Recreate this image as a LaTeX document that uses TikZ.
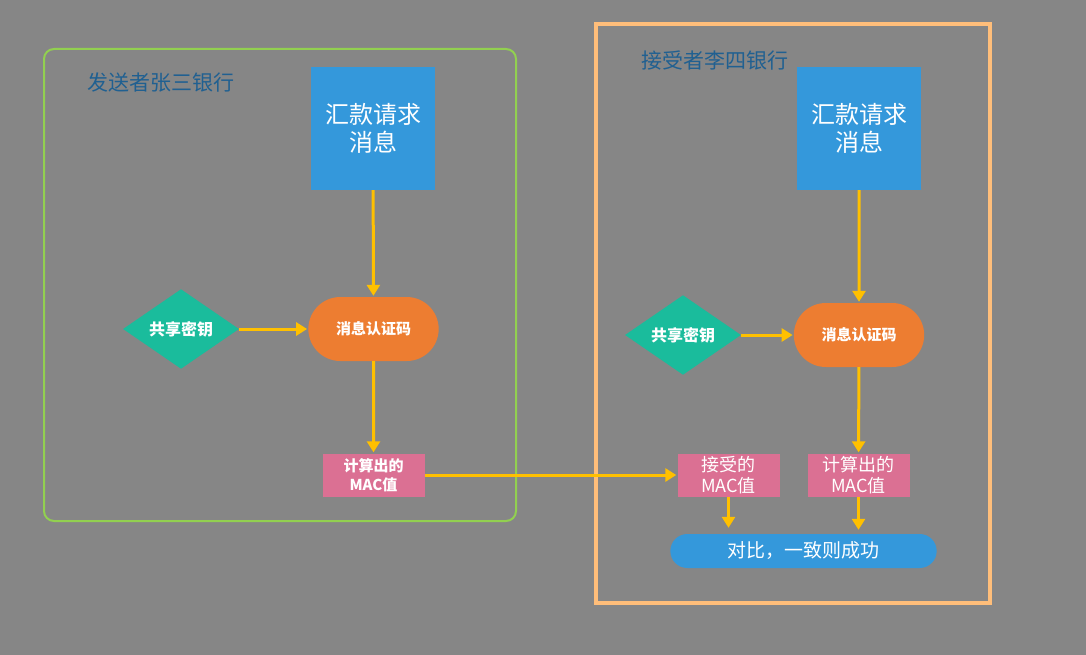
\documentclass[tikz,border=0pt]{standalone}
\usepackage{fontspec}
\setmainfont{Noto Sans CJK SC}
\usetikzlibrary{arrows.meta}
\usetikzlibrary{positioning}
\usetikzlibrary{shapes.geometric,shapes.misc}
\definecolor{bggray}{RGB}{134,134,134}
\definecolor{titleblue}{RGB}{32,96,145}
\definecolor{boxblue}{RGB}{52,152,219}
\definecolor{keygreen}{RGB}{26,188,156}
\definecolor{macorange}{RGB}{237,125,49}
\definecolor{valpink}{RGB}{219,112,147}
\definecolor{arrowgold}{RGB}{255,192,0}
\definecolor{framegreen}{RGB}{146,208,80}
\definecolor{frameorange}{RGB}{255,190,122}

\begin{document}
\begin{tikzpicture}[x=1pt,y=-1pt,>={Triangle[length=11pt,width=13pt]},shorten >=1pt,auto,
                    msg node/.style={rectangle,fill=boxblue,text=white,minimum width=124pt,minimum height=123pt,align=center,font=\fontsize{24}{28}\selectfont},
                    key node/.style={diamond,fill=keygreen,text=white,minimum width=116pt,minimum height=76pt,inner sep=0pt,font=\bfseries\fontsize{16}{19}\selectfont},
                    mac node/.style={rounded rectangle,fill=macorange,text=white,minimum width=137pt,minimum height=64pt,font=\bfseries\fontsize{15}{18}\selectfont},
                    val node/.style={rectangle,fill=valpink,text=white,minimum width=102pt,minimum height=43pt,inner sep=0pt,align=center},
                    title node/.style={text=titleblue,font=\fontsize{21}{24}\selectfont}]

  \fill[bggray] (0,0) rectangle (1086,655);
  \draw[framegreen,line width=2pt,rounded corners=10pt] (44,49) rectangle (516,521);
  \draw[frameorange,line width=4pt] (596,24) rectangle (990,603);

  \node[title node] (sender) at (161,83) {发送者张三银行};
  \node[title node] (receiver) at (715,61) {接受者李四银行};

  \node[msg node] (msgA) at (373,128.5) {汇款请求\\消息};
  \node[key node] (keyA) at (181,329) {共享密钥};
  \node[mac node] (macA) at (373.5,329) {消息认证码};
  \node[val node,font=\bfseries\fontsize{15}{19}\selectfont] (calcA) at (373.5,475) {计算出的\\MAC值};

  \node[msg node] (msgB) at (859,128.5) {汇款请求\\消息};
  \node[key node] (keyB) at (683,335) {共享密钥};
  \node[mac node] (macB) at (859,335) {消息认证码};
  \node[val node,font=\fontsize{18}{21}\selectfont] (recvB) at (728.5,475) {接受的\\MAC值};
  \node[val node,font=\fontsize{18}{21}\selectfont] (calcB) at (858.5,475) {计算出的\\MAC值};
  \node[rounded rectangle,fill=boxblue,text=white,minimum width=273pt,minimum height=34pt,font=\fontsize{19}{22}\selectfont] (cmpB) at (803.5,551) {对比，一致则成功};

  \path[->,arrowgold,line width=3pt]
    (msgA) edge (macA)
    (keyA) edge (macA)
    (macA) edge (calcA)
    (calcA) edge (recvB)
    (msgB) edge (macB)
    (keyB) edge (macB)
    (macB) edge (calcB)
    (recvB.south) edge[shorten >=6pt] (recvB.south |- cmpB.north)
    (calcB.south) edge[shorten >=4pt] (calcB.south |- cmpB.north)
;
\end{tikzpicture}
\end{document}
